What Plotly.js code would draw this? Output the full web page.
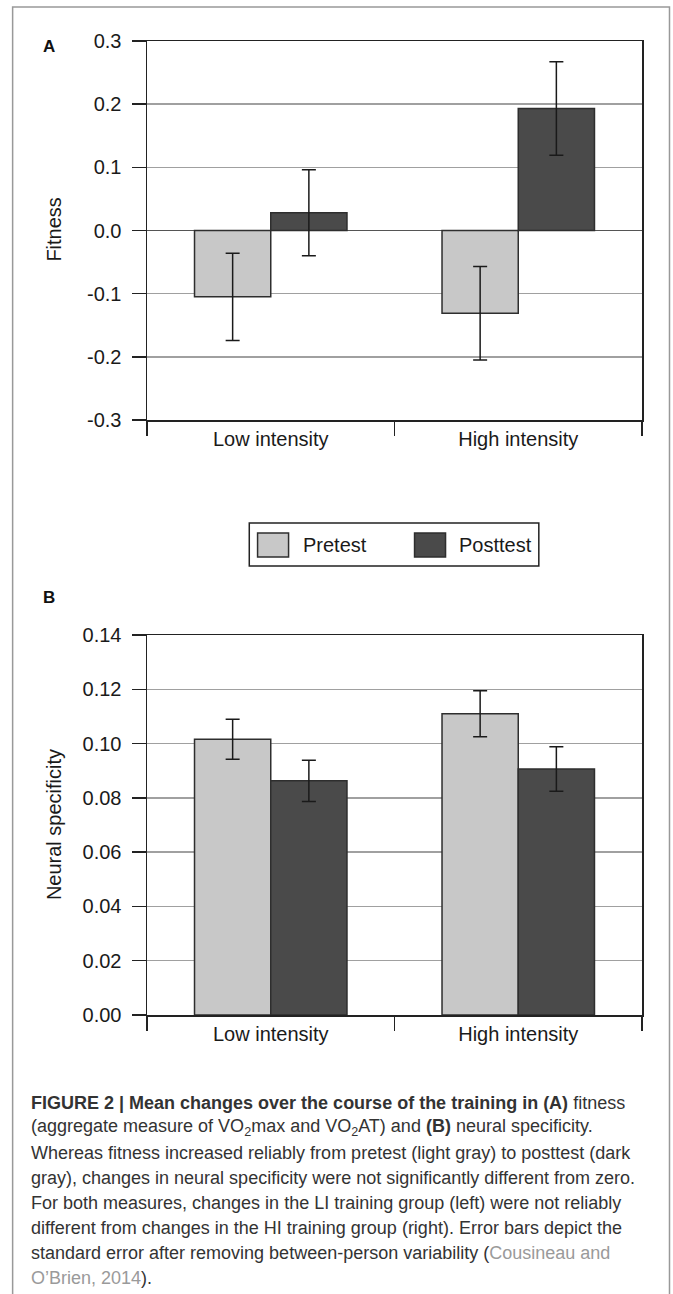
<!DOCTYPE html>
<html>
<head>
<meta charset="utf-8">
<script src="https://cdn.plot.ly/plotly-3.0.1.min.js"></script>
<style>html,body{margin:0;padding:0;background:#fff;}#chart{width:673px;height:1294px;}</style>
</head>
<body>
<div id="chart"></div>
<script>
// ---- data ----
var categories = ["Low intensity", "High intensity"];
var seriesNames = ["Pretest", "Posttest"];
var fitnessPre = [-0.105, -0.131];
var fitnessPreErr = [0.069, 0.074];
var fitnessPost = [0.028, 0.193];
var fitnessPostErr = [0.068, 0.074];
var neuralPre = [0.1016, 0.1110];
var neuralPreErr = [0.0074, 0.0085];
var neuralPost = [0.0863, 0.0906];
var neuralPostErr = [0.0076, 0.0082];
var fitnessTickVals = [-0.3, -0.2, -0.1, 0.0, 0.1, 0.2, 0.3];
var fitnessTickText = ["-0.3", "-0.2", "-0.1", "0.0", "0.1", "0.2", "0.3"];
var neuralTickVals = [0, 0.02, 0.04, 0.06, 0.08, 0.10, 0.12, 0.14];
var neuralTickText = ["0.00", "0.02", "0.04", "0.06", "0.08", "0.10", "0.12", "0.14"];
var captionLines = [
  "<b>FIGURE 2 | Mean changes over the course of the training in (A)</b> fitness",
  "(aggregate measure of VO<sub>2</sub>max and VO<sub>2</sub>AT) and <b>(B)</b> neural specificity.",
  "Whereas fitness increased reliably from pretest (light gray) to posttest (dark",
  "gray), changes in neural specificity were not significantly different from zero.",
  "For both measures, changes in the LI training group (left) were not reliably",
  "different from changes in the HI training group (right). Error bars depict the",
  "standard error after removing between-person variability (<span style='color:#9a9a9a'>Cousineau and</span>",
  "<span style='color:#9a9a9a'>O\u2019Brien, 2014</span>)."
];

// ---- styling / layout helpers ----
var W = 673, H = 1294;
var mL = 147.4, mR = 30.5, mT = 41, mB = 279;
var plotW = W - mL - mR, plotH = H - mT - mB;
function X(px) { return (px - mL) / plotW; }
function Y(py) { return (H - mB - py) / plotH; }
var FONT = "Liberation Sans, Arial, Helvetica, sans-serif";
var light = "#c8c8c8", dark = "#4a4a4a", edge = "#2e2e2e";

function barTrace(name, y, err, color, xa, ya) {
  return {
    type: "bar", name: name, x: categories, y: y, xaxis: xa, yaxis: ya,
    marker: {color: color, line: {color: edge, width: 1.5}},
    error_y: {type: "data", array: err, visible: true, color: "#1a1a1a", thickness: 1.5, width: 7},
    showlegend: false, hoverinfo: "x+y"
  };
}

var data = [
  barTrace(seriesNames[0], fitnessPre, fitnessPreErr, light, "x", "y"),
  barTrace(seriesNames[1], fitnessPost, fitnessPostErr, dark, "x", "y"),
  barTrace(seriesNames[0], neuralPre, neuralPreErr, light, "x2", "y2"),
  barTrace(seriesNames[1], neuralPost, neuralPostErr, dark, "x2", "y2")
];

function xAxis(anchor) {
  return {
    anchor: anchor, domain: [0, 1], type: "category",
    showline: true, linecolor: "#222", linewidth: 1.5, mirror: true,
    ticks: "outside", tickson: "boundaries", ticklen: 14, tickwidth: 1.5, tickcolor: "#222",
    showgrid: false, zeroline: false,
    tickfont: {family: FONT, size: 20, color: "#1a1a1a"}, fixedrange: true
  };
}
function yAxis(anchor, domain, range, tv, tt, zl) {
  return {
    anchor: anchor, domain: domain, range: range, autorange: false,
    tickmode: "array", tickvals: tv, ticktext: tt,
    showline: true, linecolor: "#222", linewidth: 1.5, mirror: true,
    ticks: "outside", ticklen: 14, tickwidth: 1.5, tickcolor: "#222",
    showgrid: true, gridcolor: "#a0a0a0", gridwidth: 1.5,
    zeroline: zl, zerolinecolor: "#555", zerolinewidth: 1.5,
    ticklabelstandoff: 6,
    tickfont: {family: FONT, size: 20, color: "#1a1a1a"}, fixedrange: true
  };
}

var shapes = [
  // outer figure frame
  {type: "rect", xref: "paper", yref: "paper", x0: X(13), x1: X(670), y0: Y(7), y1: Y(1310),
   line: {color: "#999", width: 1.5}, fillcolor: "rgba(0,0,0,0)", layer: "below"},
  // legend box
  {type: "rect", xref: "paper", yref: "paper", x0: X(249.7), x1: X(539.3), y0: Y(523), y1: Y(566),
   line: {color: "#222", width: 1.5}, fillcolor: "#fff"},
  {type: "rect", xref: "paper", yref: "paper", x0: X(258), x1: X(289), y0: Y(533), y1: Y(557),
   line: {color: edge, width: 1.5}, fillcolor: light},
  {type: "rect", xref: "paper", yref: "paper", x0: X(415), x1: X(446), y0: Y(533), y1: Y(557),
   line: {color: edge, width: 1.5}, fillcolor: dark}
];

function ann(text, px, py, opts) {
  var a = {text: text, xref: "paper", yref: "paper", x: X(px), y: Y(py), showarrow: false,
           xanchor: "left", yanchor: "middle", font: {family: FONT, size: 20, color: "#1a1a1a"}};
  for (var k in opts) a[k] = opts[k];
  return a;
}

var annotations = [
  ann("<b>A</b>", 49, 46, {xanchor: "center", font: {family: FONT, size: 17, color: "#111"}}),
  ann("<b>B</b>", 49, 597, {xanchor: "center", font: {family: FONT, size: 17, color: "#111"}}),
  ann("Fitness", 54, 230, {xanchor: "center", textangle: -90}),
  ann("Neural specificity", 54.5, 825, {xanchor: "center", textangle: -90}),
  ann(seriesNames[0], 301, 545),
  ann(seriesNames[1], 457.5, 545)
];
for (var i = 0; i < captionLines.length; i++) {
  annotations.push(ann(captionLines[i], 29, 1102.7 + 25.1 * i,
    {font: {family: FONT, size: 18, color: "#333"}, align: "left"}));
}

var layout = {
  width: W, height: H,
  margin: {l: mL, r: mR, t: mT, b: mB, pad: 0},
  paper_bgcolor: "#fff", plot_bgcolor: "#fff",
  barmode: "group", bargap: 0.384, bargroupgap: 0,
  showlegend: false,
  font: {family: FONT, size: 20, color: "#1a1a1a"},
  xaxis: xAxis("y"),
  yaxis: yAxis("x", [Y(420), 1], [-0.3, 0.3], fitnessTickVals, fitnessTickText, true),
  xaxis2: xAxis("y2"),
  yaxis2: yAxis("x2", [0, Y(635)], [0, 0.14], neuralTickVals, neuralTickText, false),
  shapes: shapes,
  annotations: annotations
};

Plotly.newPlot("chart", data, layout, {staticPlot: true, displayModeBar: false});
</script>
</body>
</html>
